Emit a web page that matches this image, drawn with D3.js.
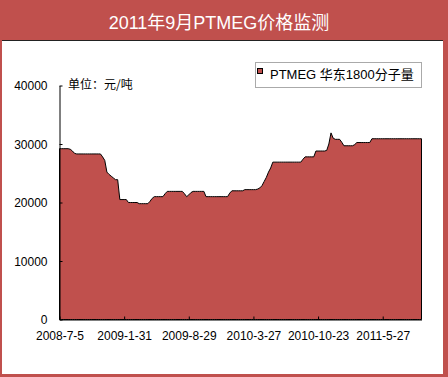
<!DOCTYPE html>
<html>
<head>
<meta charset="utf-8">
<script src="https://cdnjs.cloudflare.com/ajax/libs/d3/7.8.5/d3.min.js"></script>
<style>
  body { margin: 0; background: #fff; }
  svg { display: block; }
  .tick text { font-family: "Liberation Sans", Arial, sans-serif; font-size: 12px; fill: #000; }
</style>
</head>
<body>
<div id="chart"></div>
<script>
// weekly PTMEG price (yuan/ton)
var prices = [
  29200, 29200, 29200, 29200, 29200, 29100, 28800, 28400, 28300, 28300,
  28300, 28300, 28300, 28300, 28300, 28300, 28300, 28300, 28300, 28300,
  27800, 27200, 25200, 24800, 24500, 24200, 23900, 23900, 20500, 20500,
  20500, 20500, 20000, 20000, 20000, 20000, 20000, 19800, 19800, 19800,
  19800, 19800, 20200, 20700, 21000, 21000, 21000, 21000, 21000, 21500,
  21900, 21900, 21900, 21900, 21900, 21900, 21900, 21900, 21500, 21000,
  21300, 21700, 21900, 21900, 21900, 21900, 21900, 21900, 21000, 21000,
  21000, 21000, 21000, 21000, 21000, 21000, 21000, 21000, 21000, 21600,
  22000, 22000, 22000, 22000, 22000, 22000, 22200, 22200, 22200, 22200,
  22200, 22200, 22300, 22500, 22900, 23600, 24300, 25200, 25900, 26900,
  26900, 26900, 26900, 26900, 26900, 26900, 26900, 26900, 26900, 26900,
  26900, 26900, 26900, 27400, 27800, 27800, 27800, 27800, 27800, 28800,
  28800, 28800, 28800, 28800, 28900, 30000, 31900, 31000, 30800, 30800,
  30800, 30300, 29700, 29700, 29700, 29700, 29700, 29900, 30250, 30250,
  30250, 30250, 30250, 30250, 30250, 30900, 30900, 30900, 30900, 30900,
  30900, 30900, 30900, 30900, 30900, 30900, 30900, 30900, 30900, 30900,
  30900, 30900, 30900, 30900, 30900, 30900, 30900, 30900, 30900
];
// category labels shown on the x axis, with the week index they sit at
var tickIdx = [0, 30, 60, 90, 120, 150];
var tickLabels = ["2008-7-5", "2009-1-31", "2009-8-29", "2010-3-27", "2010-10-23", "2011-5-27"];
var yTicks = [0, 10000, 20000, 30000, 40000];

var title = "2011年9月PTMEG价格监测";
var unitText = "单位：元/吨";
var seriesName = "PTMEG 华东1800分子量";

var W = 448, H = 377;
var red = "#C0504D";

var svg = d3.select("#chart").append("svg")
    .attr("width", W)
    .attr("height", H);

// frame
svg.append("rect").attr("x", 0).attr("y", 0).attr("width", W).attr("height", H).attr("fill", red);
svg.append("rect").attr("x", 2).attr("y", 40).attr("width", 441).attr("height", 334).attr("fill", "#fff");
svg.append("line")
    .attr("x1", 2).attr("x2", 443).attr("y1", 40.5).attr("y2", 40.5)
    .attr("stroke", "#222").attr("stroke-width", 1);

svg.append("text")
    .attr("x", 219).attr("y", 29)
    .attr("text-anchor", "middle")
    .style("font-family", "'Liberation Sans', 'Noto Sans CJK SC', sans-serif")
    .style("font-size", "18px")
    .attr("fill", "#fff")
    .text(title);

// scales (half-pixel offsets keep the 1px lines sharp)
var x = d3.scaleLinear().domain([0, prices.length - 1]).range([59.5, 421.5]);
var y = d3.scaleLinear().domain([0, 40000]).range([319.5, 85.5]);

var area = d3.area()
    .x(function(d, i) { return x(i); })
    .y0(y(0))
    .y1(function(d) { return y(d); });

svg.append("path")
    .datum(prices)
    .attr("d", area)
    .attr("fill", red)
    .attr("stroke", "#000")
    .attr("stroke-width", 1)
    .attr("stroke-linejoin", "miter");

// axes
var yAxis = d3.axisLeft(y)
    .tickValues(yTicks)
    .tickSizeInner(-3)
    .tickSizeOuter(0)
    .tickPadding(12)
    .tickFormat(d3.format("d"));

var gy = svg.append("g")
    .call(yAxis);

var xAxis = d3.axisBottom(x)
    .tickValues(tickIdx)
    .tickSizeInner(-3)
    .tickSizeOuter(0)
    .tickPadding(10)
    .tickFormat(function(d, i) { return tickLabels[i]; });

var gx = svg.append("g")
    .call(xAxis);

// move axes onto the plot edges (scales already carry the .5 offsets)
gy.attr("transform", "translate(" + x(0) + ",0)");
gx.attr("transform", "translate(0," + y(0) + ")");

svg.selectAll(".domain, .tick line")
    .attr("stroke", "#000");
gx.selectAll(".tick text").attr("dy", "0.85em");
gy.selectAll(".tick text").attr("dy", "0.36em");

// unit note
svg.append("text")
    .attr("x", 68).attr("y", 89)
    .style("font-family", "'Noto Sans CJK SC', sans-serif")
    .style("font-size", "12px")
    .attr("fill", "#000")
    .text(unitText);

// legend
var lg = svg.append("g");
lg.append("rect")
    .attr("x", 255.5).attr("y", 62.5).attr("width", 166).attr("height", 25)
    .attr("fill", "#fff").attr("stroke", "#aaa");
lg.append("rect")
    .attr("x", 257.5).attr("y", 68.5).attr("width", 5).attr("height", 5)
    .attr("fill", red).attr("stroke", "#000");
lg.append("text")
    .attr("x", 270).attr("y", 79)
    .style("font-family", "'Liberation Sans', 'Noto Sans CJK SC', sans-serif")
    .style("font-size", "13px")
    .attr("fill", "#000")
    .text(seriesName);
</script>
</body>
</html>
